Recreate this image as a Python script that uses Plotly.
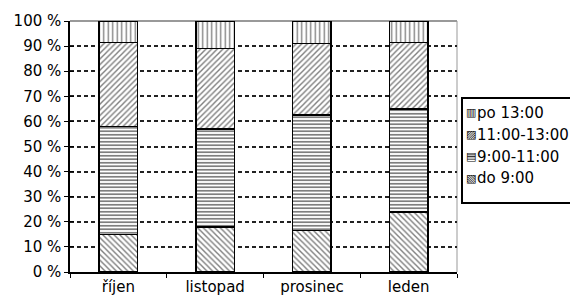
import plotly.graph_objects as go

months = ["říjen", "listopad", "prosinec", "leden"]
series_names = ["do 9:00", "9:00-11:00", "11:00-13:00", "po 13:00"]
do_9 = [15, 18, 16.5, 24]
od_9_do_11 = [43, 39, 46, 41]
od_11_do_13 = [33.5, 32, 28.5, 26.5]
po_13 = [8.5, 11, 9, 8.5]
y_ticks = [0, 10, 20, 30, 40, 50, 60, 70, 80, 90, 100]
y_tick_labels = [f"{v} %" for v in y_ticks]
legend_icons = {"do 9:00": "▧", "9:00-11:00": "▤", "11:00-13:00": "▨", "po 13:00": "▥"}

values = [do_9, od_9_do_11, od_11_do_13, po_13]
patterns = [
    dict(shape="\\", size=4, solidity=0.35),
    dict(shape="-", size=3.5, solidity=0.5),
    dict(shape="/", size=4, solidity=0.35),
    dict(shape="|", size=4.5, solidity=0.3),
]

fig = go.Figure()
for name, vals, pat in zip(series_names, values, patterns):
    fig.add_trace(go.Bar(
        x=months, y=vals, name=name, showlegend=False,
        marker=dict(color="white",
                    pattern=dict(shape=pat["shape"], size=pat["size"], solidity=pat["solidity"],
                                 fgcolor="black", bgcolor="white", fillmode="overlay"),
                    line=dict(color="black", width=1.5)),
        width=0.4,
    ))

font_family = "DejaVu Sans"
W, H = 578, 300
OFF = 8  # page body margin: the figure is drawn 8px right/down in the window
# plot area in window pixels: x 70..457, y 21..272
ML = 70 - OFF
MT = 21 - OFF
MR = W - (457 - OFF)
MB = H - (272 - OFF)
pw, ph = W - ML - MR, H - MT - MB

def px_x(px):
    return (px - OFF - ML) / pw

def px_y(py):
    return (H - MB - (py - OFF)) / ph

fig.update_layout(
    width=W, height=H,
    margin=dict(l=ML, r=MR, t=MT, b=MB),
    barmode="stack",
    plot_bgcolor="white", paper_bgcolor="white",
    font=dict(family=font_family, size=15, color="black"),
    showlegend=False,
    xaxis=dict(showline=True, linecolor="black", linewidth=1.5,
               ticks="outside", tickson="boundaries", ticklen=4, tickcolor="black",
               showgrid=False, automargin=False),
    yaxis=dict(range=[0, 100], tickvals=y_ticks, ticktext=y_tick_labels,
               showline=True, linecolor="black", linewidth=1.5,
               ticks="outside", ticklen=4, tickcolor="black",
               showgrid=True, gridcolor="#222", gridwidth=1.5, griddash="4px,3px",
               zeroline=False, automargin=False),
    yaxis2=dict(range=[0, 100], tickvals=y_ticks, overlaying="y", side="left",
                ticks="inside", ticklen=4, tickcolor="black", showticklabels=False,
                showgrid=False, zeroline=False, showline=False),
)
# invisible helper trace so the overlay axis (inside ticks) is drawn
fig.add_trace(go.Scatter(x=[months[0]], y=[0], yaxis="y2", mode="markers",
                         marker=dict(opacity=0), showlegend=False, hoverinfo="skip"))

# top and right border of the plot area (gray)
fig.add_shape(type="line", xref="paper", yref="paper", x0=0, x1=1, y0=1, y1=1,
              line=dict(color="#777", width=1.5), layer="below")
fig.add_shape(type="line", xref="paper", yref="paper", x0=1, x1=1, y0=0, y1=1,
              line=dict(color="#999", width=1), layer="below")

# legend box (custom, to match the compact original legend)
fig.add_shape(type="rect", xref="paper", yref="paper",
              x0=px_x(462), x1=px_x(577), y0=px_y(203), y1=px_y(98),
              line=dict(color="black", width=2), fillcolor="white")
legend_order = list(reversed(series_names))
legend_y = [112.5, 134.5, 156.5, 178]
for name, py in zip(legend_order, legend_y):
    fig.add_annotation(x=px_x(471.5), y=px_y(py), xref="paper", yref="paper",
                       text=legend_icons[name], showarrow=False, xanchor="center", yanchor="middle",
                       font=dict(family=font_family, size=11, color="black"))
    fig.add_annotation(x=px_x(475), y=px_y(py), xref="paper", yref="paper",
                       text=name, showarrow=False, xanchor="left", yanchor="middle",
                       font=dict(family=font_family, size=15, color="black"))

fig.write_html("out.html")
